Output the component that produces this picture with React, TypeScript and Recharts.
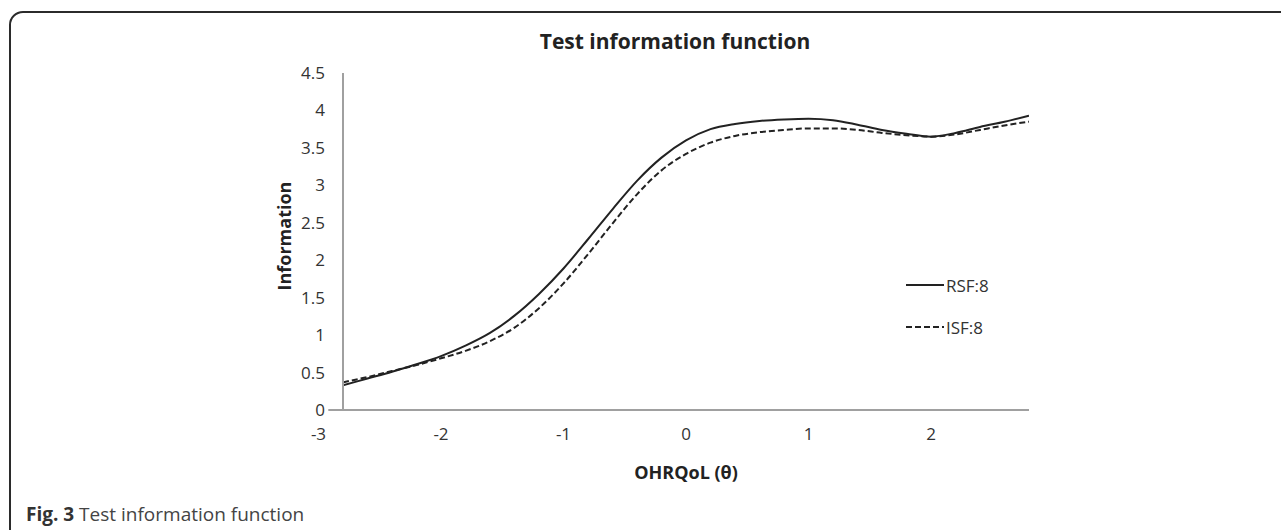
import { Line, LineChart, ReferenceLine, XAxis, YAxis } from 'recharts';

// theta grid used in the source figure
const theta = [
  -2.8, -2.6, -2.4, -2.2, -2.0, -1.8, -1.6, -1.4, -1.2, -1.0, -0.8, -0.6, -0.4, -0.2, 0.0,
  0.2, 0.4, 0.6, 0.8, 1.0, 1.2, 1.4, 1.6, 1.8, 2.0, 2.2, 2.4, 2.6, 2.8,
];

const rsf8 = [
  0.33, 0.42, 0.51, 0.61, 0.72, 0.86, 1.03, 1.26, 1.55, 1.89, 2.28, 2.68, 3.06, 3.37, 3.6,
  3.75, 3.82, 3.86, 3.88, 3.89, 3.87, 3.81, 3.74, 3.69, 3.65, 3.7, 3.78, 3.85, 3.93,
];

const isf8 = [
  0.37, 0.44, 0.52, 0.6, 0.69, 0.79, 0.92, 1.1, 1.36, 1.69, 2.08, 2.49, 2.88, 3.2, 3.42,
  3.57, 3.66, 3.71, 3.74, 3.76, 3.76, 3.74, 3.7, 3.67, 3.65, 3.68, 3.74, 3.8, 3.85,
];

const xTicks = [-3, -2, -1, 0, 1, 2];
const yTicks = [0, 0.5, 1, 1.5, 2, 2.5, 3, 3.5, 4, 4.5];

const series = [
  { key: 'rsf', name: 'RSF:8', dash: undefined },
  { key: 'isf', name: 'ISF:8', dash: '6 3' },
];

const data = theta.map((t, i) => ({ theta: t, rsf: rsf8[i], isf: isf8[i] }));

const font = '"Open Sans", sans-serif';
const axisGrey = '#a0a0a0';
const ink = '#222';

function LegendBox() {
  return (
    <div
      style={{
        position: 'absolute',
        left: 906,
        top: 264,
        fontFamily: font,
        fontSize: 17,
        color: '#333',
      }}
    >
      {series.map((s) => (
        <div key={s.key} style={{ display: 'flex', alignItems: 'center', height: 42 }}>
          <svg width={38} height={4} style={{ marginRight: 2 }}>
            <line x1={0} y1={2} x2={38} y2={2} stroke={ink} strokeWidth={2} strokeDasharray={s.dash} />
          </svg>
          <span>{s.name}</span>
        </div>
      ))}
    </div>
  );
}

export default function App() {
  return (
    <div
      style={{
        position: 'absolute',
        left: 0,
        top: 0,
        width: 1281,
        height: 530,
        overflow: 'hidden',
        background: '#fff',
      }}
    >
      <div
        style={{
          position: 'absolute',
          left: 9,
          top: 11,
          width: 1300,
          height: 560,
          border: '2px solid #2b2b2b',
          borderRadius: 14,
        }}
      />
      <div
        style={{
          position: 'absolute',
          left: 0,
          width: 1350,
          top: 27,
          textAlign: 'center',
          fontFamily: font,
          fontWeight: 700,
          fontSize: 21,
          color: ink,
        }}
      >
        Test information function
      </div>
      <div
        style={{
          position: 'absolute',
          left: 284,
          top: 236,
          transform: 'translate(-50%, -50%) rotate(-90deg)',
          fontFamily: font,
          fontWeight: 700,
          fontSize: 18,
          color: ink,
          whiteSpace: 'nowrap',
        }}
      >
        Information
      </div>
      <div
        style={{
          position: 'absolute',
          left: 0,
          width: 1372,
          top: 460,
          textAlign: 'center',
          fontFamily: font,
          fontWeight: 700,
          fontSize: 18,
          color: ink,
        }}
      >
        OHRQoL (θ)
      </div>
      <div
        style={{
          position: 'absolute',
          left: 26,
          top: 501,
          fontFamily: font,
          fontSize: 19,
          color: '#444',
        }}
      >
        <b style={{ color: '#333' }}>Fig. 3</b> Test information function
      </div>
      <div style={{ position: 'absolute', left: 0, top: 0 }}>
        <LineChart
          width={1281}
          height={530}
          data={data}
          margin={{ top: 73, right: 252, bottom: 90, left: 283 }}
        >
          <XAxis
            dataKey="theta"
            type="number"
            domain={[-2.8, 2.8]}
            allowDataOverflow
            ticks={xTicks}
            interval={0}
            height={30}
            axisLine={false}
            tickLine={false}
            tickMargin={12}
            tick={{ fontFamily: font, fontSize: 17, fill: '#333' }}
          />
          <YAxis
            type="number"
            domain={[0, 4.5]}
            ticks={yTicks}
            interval={0}
            width={60}
            axisLine={{ stroke: axisGrey, strokeWidth: 2 }}
            tickLine={false}
            tickMargin={12}
            tick={{ fontFamily: font, fontSize: 17, fill: '#333' }}
          />
          <ReferenceLine
            segment={[
              { x: -2.92, y: 0 },
              { x: 2.8, y: 0 },
            ]}
            ifOverflow="visible"
            stroke={axisGrey}
            strokeWidth={2}
          />
          {series.map((s) => (
            <Line
              key={s.key}
              dataKey={s.key}
              name={s.name}
              type="monotone"
              stroke={ink}
              strokeWidth={2}
              strokeDasharray={s.dash}
              dot={false}
              isAnimationActive={false}
            />
          ))}
        </LineChart>
      </div>
      <LegendBox />
    </div>
  );
}
